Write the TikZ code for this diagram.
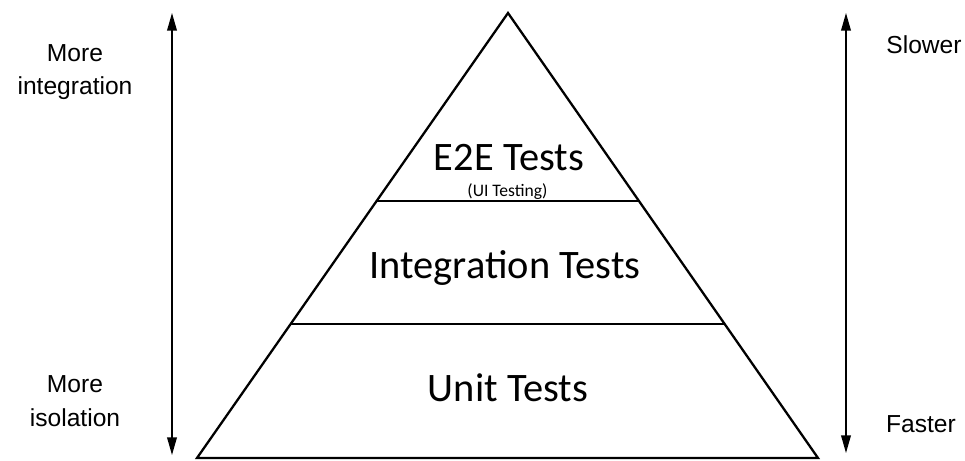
\documentclass[tikz,border=0pt]{standalone}
\usepackage{fontspec}
\setmainfont{Carlito}
\newfontfamily\sidefont{Liberation Sans}
\usetikzlibrary{arrows.meta}
\usetikzlibrary{calc}

\tikzset{
  levellabel/.style={font=\fontsize{23}{27}\selectfont},
  sidelabel/.style={align=center,font=\sidefont\fontsize{14}{19}\selectfont},
  rangearrow/.style={{Triangle[length=10pt,width=5.5pt]}-{Triangle[length=10pt,width=5.5pt]},line width=0.8pt}
}

\begin{document}
\begin{tikzpicture}

\useasboundingbox (0,0) rectangle (19.3,9.2);

% pyramid
\coordinate (apex) at (10.16,8.94);
\coordinate (bl) at (3.94,0.04);
\coordinate (br) at (16.36,0.04);
\draw [line width=1.3pt,line join=miter] (bl) -- (apex) -- (br) -- cycle;
\draw [line width=1.3pt] ($(apex)!0.4225!(bl)$) -- ($(apex)!0.4225!(br)$);
\draw [line width=1.3pt] ($(apex)!0.699!(bl)$) -- ($(apex)!0.699!(br)$);

% side arrows
\coordinate (ltop) at (3.44,8.94);
\coordinate (lbot) at (3.44,0.10);
\coordinate (rtop) at (16.92,8.94);
\coordinate (rbot) at (16.92,0.14);
\draw [rangearrow] (lbot) -- (ltop);
\draw [rangearrow] (rbot) -- (rtop);

% some text
\node (e2e) at (10.18,6.04) [levellabel] {E2E Tests};
\node (ui) at (10.15,5.36) [font=\fontsize{10}{12}\selectfont] {(UI Testing)};
\node (integ) at (10.1,3.84) [levellabel] {Integration Tests};
\node (unit) at (10.16,1.44) [levellabel] {Unit Tests};
\node (moreint) at (1.5,7.76) [sidelabel] {More\\integration};
\node (moreiso) at (1.5,1.18) [sidelabel] {More\\isolation};
\node (slower) at (18.48,8.3) [sidelabel] {Slower};
\node (faster) at (18.42,0.72) [sidelabel] {Faster};

\end{tikzpicture}
\end{document}
